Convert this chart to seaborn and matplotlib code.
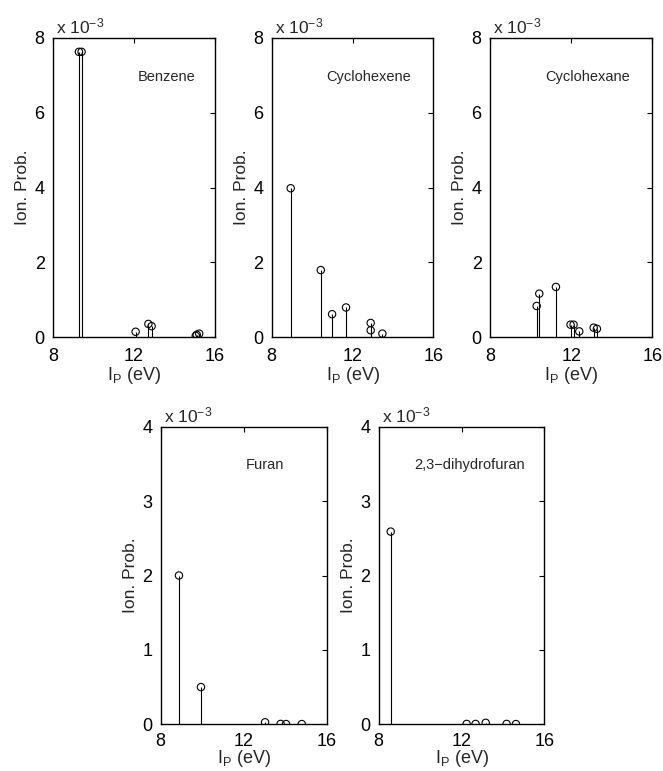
import numpy as np
import pandas as pd
import matplotlib
matplotlib.use("Agg")
import matplotlib.pyplot as plt
import seaborn as sns

# ---- data (values in units of 1e-3) ----
benzene_ip = [9.28, 9.41, 12.08, 12.71, 12.87, 15.05, 15.10, 15.22]
benzene_p = [7.63, 7.63, 0.14, 0.35, 0.29, 0.03, 0.06, 0.09]

cyclohexene_ip = [8.94, 10.43, 10.99, 11.68, 12.90, 12.90, 13.48]
cyclohexene_p = [3.98, 1.79, 0.61, 0.79, 0.375, 0.18, 0.09]

cyclohexane_ip = [10.30, 10.43, 11.25, 11.97, 12.12, 12.40, 13.11, 13.27]
cyclohexane_p = [0.83, 1.16, 1.34, 0.33, 0.33, 0.15, 0.25, 0.22]

furan_ip = [8.88, 9.94, 13.03, 13.78, 14.04, 14.80]
furan_p = [2.00, 0.50, 0.027, 0.005, 0.003, 0.003]

dhf_ip = [8.58, 12.25, 12.68, 13.17, 14.18, 14.63]
dhf_p = [2.59, 0.005, 0.005, 0.02, 0.005, 0.003]

names = ["Benzene", "Cyclohexene", "Cyclohexane", "Furan", "2,3\u2212dihydrofuran"]
ymax = [8, 8, 8, 4, 4]
yticks = [[0, 2, 4, 6, 8]] * 3 + [[0, 1, 2, 3, 4]] * 2
xticks = [8, 12, 16]

sns.set_style("white")
plt.rcParams['font.family'] = ['Liberation Sans', 'DejaVu Sans']
plt.rcParams['mathtext.fontset'] = 'custom'
plt.rcParams['mathtext.rm'] = 'Liberation Sans'
plt.rcParams['mathtext.it'] = 'Liberation Sans'

W, H = 663, 771
fig = plt.figure(figsize=(W / 100, H / 100), dpi=100)

# pixel boxes: left, right, top, bottom
boxes = [(53, 215, 38, 337), (271.7, 433.3, 38, 337), (490, 652.3, 38, 337),
         (160.7, 326.7, 426.7, 724.3), (378.7, 544.3, 426.7, 724.3)]
label_x = [0.70, 0.60, 0.60, 0.63, 0.55]
datasets = [(benzene_ip, benzene_p), (cyclohexene_ip, cyclohexene_p),
            (cyclohexane_ip, cyclohexane_p), (furan_ip, furan_p), (dhf_ip, dhf_p)]

for i, ((l, r, t, b), (ip, p)) in enumerate(zip(boxes, datasets)):
    ax = fig.add_axes([l / W, 1 - b / H, (r - l) / W, (b - t) / H])
    df = pd.DataFrame({"ip": ip, "p": p})
    ax.vlines(df["ip"], 0, df["p"], color="black", lw=0.8, zorder=2)
    sns.scatterplot(data=df, x="ip", y="p", ax=ax, marker="o", s=28,
                    facecolors="none", edgecolor="black", linewidth=0.8, zorder=3)
    ax.set_xlim(8, 16)
    ax.set_ylim(0, ymax[i])
    ax.set_xticks(xticks)
    ax.set_yticks(yticks[i])
    ax.tick_params(direction="in", top=True, right=True, length=3.5, width=0.8,
                   labelsize=13, colors="black")
    ax.tick_params(axis="x", pad=(8 if i < 3 else 6))
    ax.tick_params(axis="y", pad=6)
    for s in ax.spines.values():
        s.set_linewidth(1.0)
        s.set_color("black")
    ax.set_xlabel("I$_\\mathrm{P}$ (eV)", fontsize=13,
                  labelpad=(0 if i < 3 else -1))
    ax.set_ylabel("Ion. Prob.", fontsize=12.5, labelpad=3)
    ax.text(label_x[i], 0.87, names[i], transform=ax.transAxes, ha="center",
            va="center", fontsize=10.5)
    ax.text(0.02, 1.005, "x 10$^{-3}$", transform=ax.transAxes, ha="left",
            va="bottom", fontsize=12.5)

fig.savefig("out.png", dpi=100)
